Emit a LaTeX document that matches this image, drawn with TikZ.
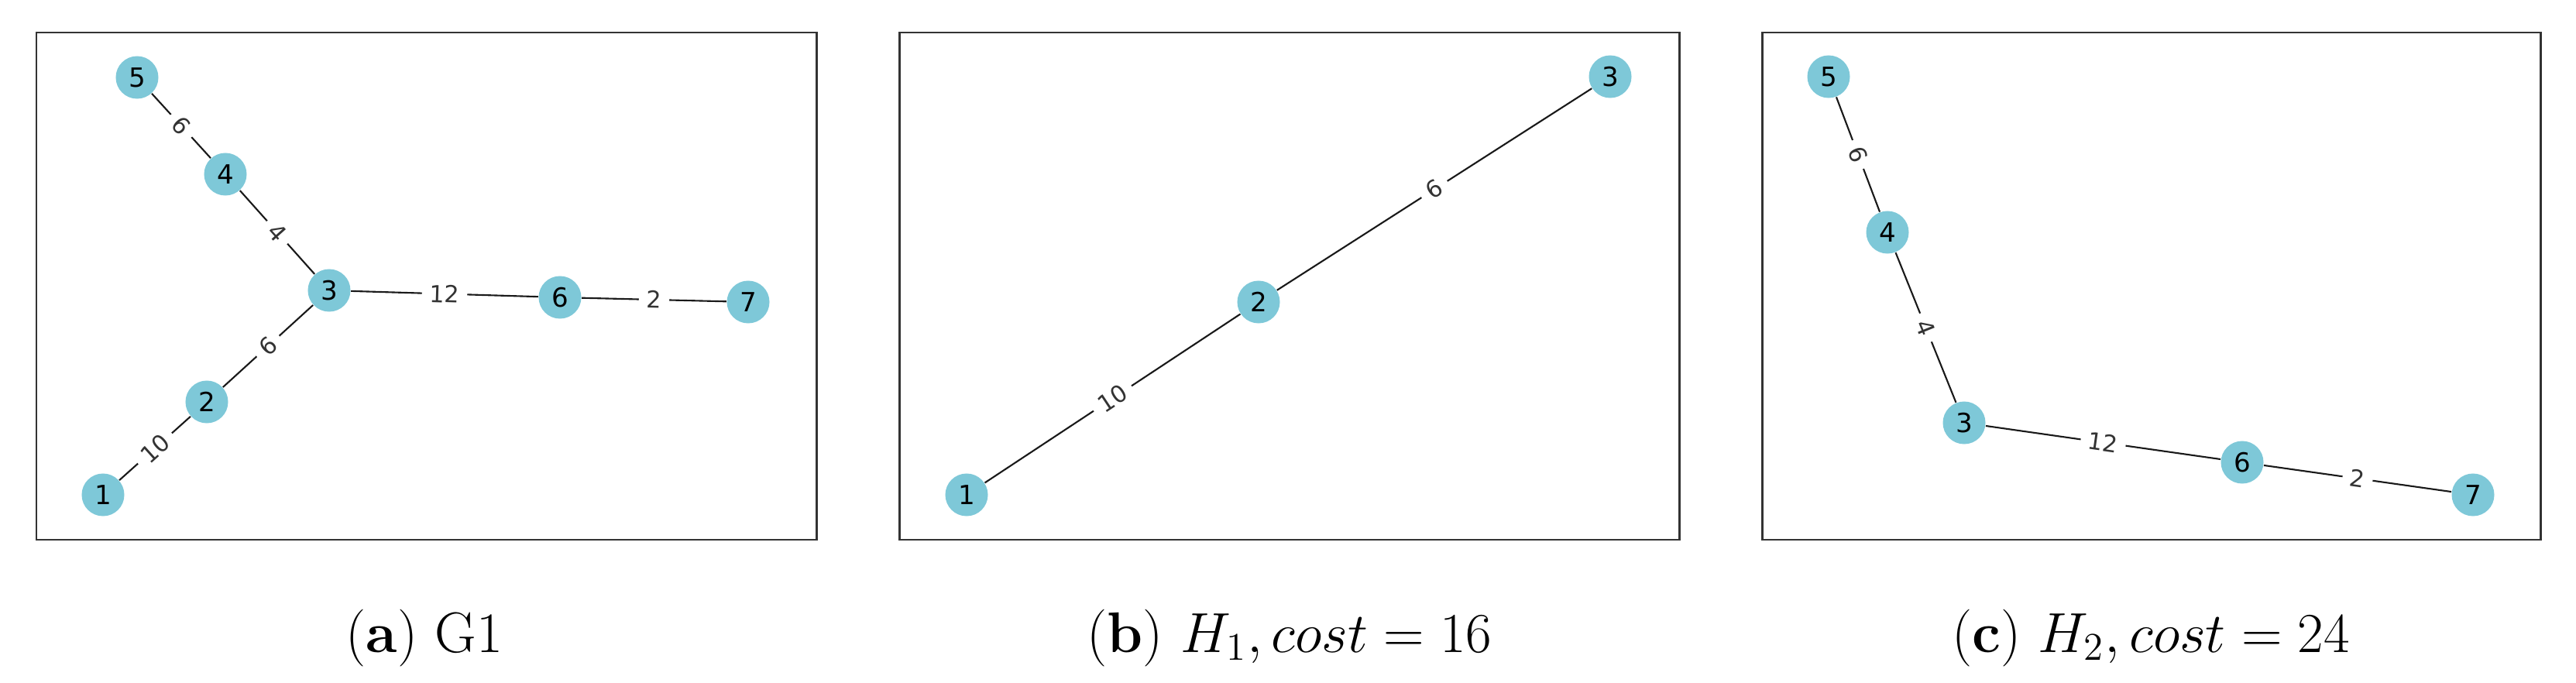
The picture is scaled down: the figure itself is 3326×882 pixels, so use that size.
\documentclass[tikz,border=0pt]{standalone}
\usepackage{fontspec}
\newfontfamily\dv{DejaVu Sans}
\definecolor{nodecol}{RGB}{126,200,216}
\definecolor{framecol}{RGB}{51,51,51}
\begin{document}
\begin{tikzpicture}[x=0.01cm,y=-0.01cm,
  vert/.style={circle,fill=nodecol,minimum size=0.55cm,inner sep=0pt,font=\dv\fontsize{9.7}{10}\selectfont},
  edge/.style={draw=black!90,line width=0.6pt},
  wt/.style={midway,sloped,fill=white,inner ysep=0.04cm,inner xsep=0.1cm,font=\dv\fontsize{8.6}{9}\selectfont,text=black!80},
  frame/.style={draw=framecol,line width=0.85pt},
  capstyle/.style={anchor=base,font=\fontsize{21}{25}\selectfont}]
\useasboundingbox (0,0) rectangle (3326,882);
% frames
\draw[frame] (47,42) rectangle (1054,697);
\draw[frame] (1161,42) rectangle (2168,697);
\draw[frame] (2275,42) rectangle (3280,697);
% panel a
\node[vert] (a1) at (133,639) {1};
\node[vert] (a2) at (267,519) {2};
\node[vert] (a3) at (425,375) {3};
\node[vert] (a4) at (291,225) {4};
\node[vert] (a5) at (177,100) {5};
\node[vert] (a6) at (723,384) {6};
\node[vert] (a7) at (966,390) {7};
\draw[edge] (a5) -- node[wt]{6} (a4);
\draw[edge] (a4) -- node[wt]{4} (a3);
\draw[edge] (a3) -- node[wt]{6} (a2);
\draw[edge] (a2) -- node[wt]{10} (a1);
\draw[edge] (a3) -- node[wt]{12} (a6);
\draw[edge] (a6) -- node[wt]{2} (a7);
% panel b
\node[vert] (b1) at (1248,639) {1};
\node[vert] (b2) at (1625,390) {2};
\node[vert] (b3) at (2079,99) {3};
\draw[edge] (b1) -- node[wt]{10} (b2);
\draw[edge] (b2) -- node[wt]{6} (b3);
% panel c
\node[vert] (c5) at (2361,99) {5};
\node[vert] (c4) at (2437,300) {4};
\node[vert] (c3) at (2536,546) {3};
\node[vert] (c6) at (2895,597) {6};
\node[vert] (c7) at (3193,639) {7};
\draw[edge] (c5) -- node[wt]{6} (c4);
\draw[edge] (c4) -- node[wt]{4} (c3);
\draw[edge] (c3) -- node[wt]{12} (c6);
\draw[edge] (c6) -- node[wt]{2} (c7);
% captions
\node[capstyle] (capa) at (548,842) {(\textbf{a}) G1};
\node[capstyle] (capb) at (1665,842) {(\textbf{b}) $H_1, cost = 16$};
\node[capstyle] (capc) at (2777,842) {(\textbf{c}) $H_2, cost = 24$};
\end{tikzpicture}
\end{document}
